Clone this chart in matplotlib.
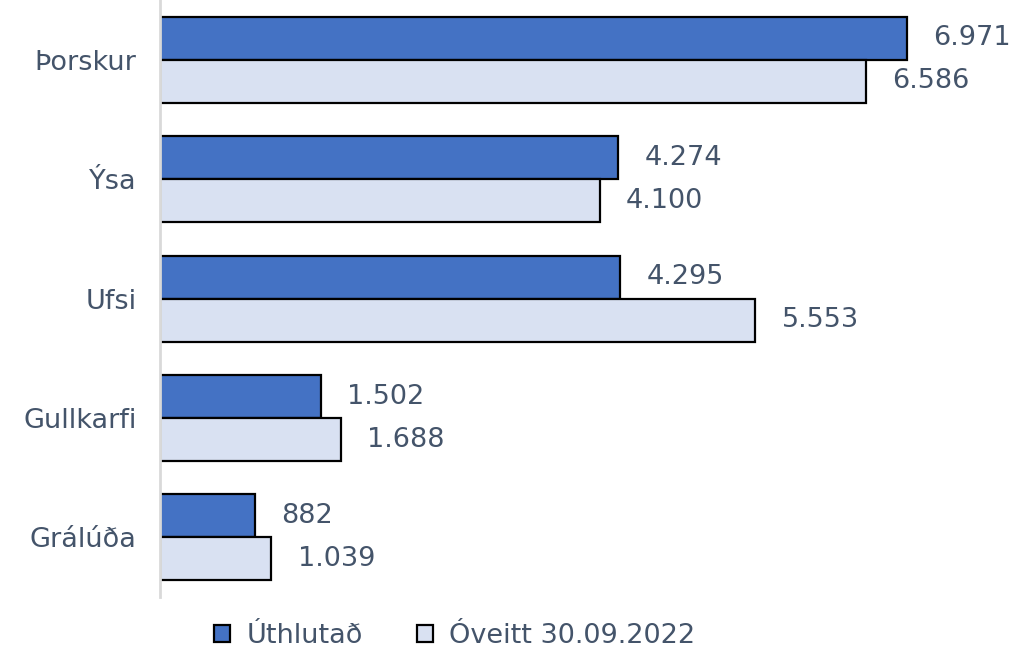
import matplotlib.pyplot as plt
import numpy as np

categories = ["Þorskur", "Ýsa", "Ufsi", "Gullkarfi", "Grálúða"]
uthlutad = [6971, 4274, 4295, 1502, 882]
oveitt = [6586, 4100, 5553, 1688, 1039]
series_names = ["Úthlutað", "Óveitt 30.09.2022"]

text_color = "#44546A"
dark = "#4472C4"
light = "#D9E1F2"

plt.rcParams["font.family"] = ["DejaVu Sans"]

fig = plt.figure(figsize=(10.33, 6.47), dpi=100)
ax = fig.add_axes([0.155, 0.077, 0.83, 0.923])

y = np.arange(len(categories))
h = 0.36
b1 = ax.barh(y - h / 2, uthlutad, height=h, color=dark, edgecolor="black", linewidth=1.6,
             label=series_names[0])
b2 = ax.barh(y + h / 2, oveitt, height=h, color=light, edgecolor="black", linewidth=1.6,
             label=series_names[1])

def fmt(v):
    return f"{v:,}".replace(",", ".")

for bars, vals in [(b1, uthlutad), (b2, oveitt)]:
    ax.bar_label(bars, labels=[fmt(v) for v in vals], padding=19,
                 fontsize=19.5, color=text_color)

ax.set_xlim(0, 8000)
ax.set_ylim(len(categories) - 0.5, -0.5)
ax.set_yticks(y)
ax.set_yticklabels(categories, fontsize=19.5, color=text_color)
ax.tick_params(axis="y", length=0, pad=17)
ax.set_xticks([])
for s in ["top", "right", "bottom"]:
    ax.spines[s].set_visible(False)
ax.spines["left"].set_color("#D9D9D9")
ax.spines["left"].set_linewidth(2)

leg = fig.legend(loc="center", bbox_to_anchor=(0.44, 0.017), ncol=2, frameon=False,
                 fontsize=19.5, labelcolor=text_color, handlelength=0.6, handleheight=0.6,
                 handletextpad=0.6, columnspacing=2.0)

fig.savefig("out.png", dpi=100)
